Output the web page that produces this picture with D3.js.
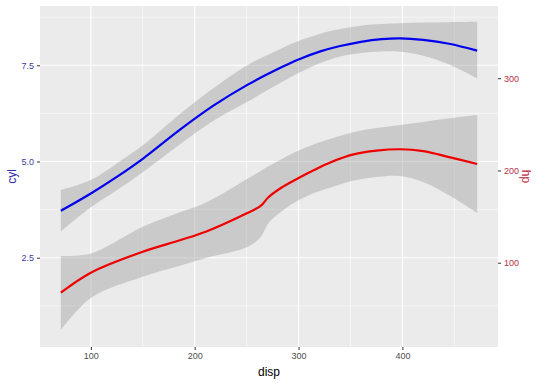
<!DOCTYPE html>
<html>
<head>
<meta charset="utf-8">
<script src="https://cdn.jsdelivr.net/npm/d3@7"></script>
<style>
  body { margin: 0; background: #fff; }
  svg { display: block; font-family: "Liberation Sans", Arial, Helvetica, sans-serif; }
</style>
</head>
<body>
<svg id="chart" width="540" height="383"></svg>
<script>
// ---- data ----
const xTicks = [100, 200, 300, 400];
const cylTicks = [2.5, 5.0, 7.5];
const hpTicks = [100, 200, 300];

// loess fit of cyl ~ disp
const cylDisp  = [71.1, 100, 125, 150, 186.5, 218, 250.7, 283, 300, 321, 340, 360, 380, 398, 420, 445, 472];
const cylFit   = [3.72, 4.17, 4.60, 5.07, 5.84, 6.45, 6.99, 7.44, 7.65, 7.86, 8.00, 8.11, 8.18, 8.20, 8.16, 8.06, 7.88];
const cylLow   = [3.18, 3.81, 4.25, 4.72, 5.46, 6.06, 6.55, 7.05, 7.30, 7.56, 7.73, 7.82, 7.86, 7.85, 7.75, 7.52, 7.16];
const cylHigh  = [4.26, 4.52, 4.95, 5.42, 6.25, 6.90, 7.50, 7.93, 8.13, 8.32, 8.44, 8.53, 8.57, 8.59, 8.61, 8.62, 8.63];

// loess fit of hp ~ disp
const hpDisp   = [71.1, 100, 150, 186.5, 210.6, 250.7, 263.5, 271, 283, 297, 315, 331, 353, 375, 398, 420, 445, 472];
const hpFit    = [67.5, 89.2, 111.9, 124.6, 133.6, 153.9, 161.5, 171.0, 181.0, 190.0, 200.5, 209.0, 217.5, 221.5, 223.0, 221.0, 214.5, 207.0];
const hpLow    = [27.0, 61.8, 84.8, 97.0, 105.1, 117.0, 127.9, 143.1, 155.0, 165.8, 175.5, 181.5, 189.0, 193.0, 194.0, 187.5, 173.0, 153.9];
const hpHigh   = [107.3, 110.0, 139.0, 155.0, 165.0, 191.0, 199.5, 204.5, 212.0, 220.1, 228.5, 234.5, 241.5, 246.0, 249.3, 252.5, 256.5, 260.2];

// ---- layout ----
const svg = d3.select("#chart");
const panel = { left: 40, right: 498, top: 6, bottom: 347 };

const x = d3.scaleLinear().domain([51.05, 492.05]).range([panel.left, panel.right]);
const yL = d3.scaleLinear().domain([0.18, 9.04]).range([panel.bottom, panel.top]);
const yR = d3.scaleLinear().domain([8.6, 378.3]).range([panel.bottom, panel.top]);

// panel background
svg.append("rect")
  .attr("x", panel.left).attr("y", panel.top)
  .attr("width", panel.right - panel.left).attr("height", panel.bottom - panel.top)
  .attr("fill", "#ebebeb");

const g = svg.append("g");
// minor grid
const xMinor = [150, 250, 350, 450];
const yMinor = [1.25, 3.75, 6.25, 8.75];
g.selectAll(".xminor").data(xMinor).enter().append("line")
  .attr("x1", d => x(d)).attr("x2", d => x(d))
  .attr("y1", panel.top).attr("y2", panel.bottom)
  .attr("stroke", "#fff").attr("stroke-width", 0.55);
g.selectAll(".yminor").data(yMinor).enter().append("line")
  .attr("y1", d => yL(d)).attr("y2", d => yL(d))
  .attr("x1", panel.left).attr("x2", panel.right)
  .attr("stroke", "#fff").attr("stroke-width", 0.55);
// major grid
g.selectAll(".xmajor").data(xTicks).enter().append("line")
  .attr("x1", d => x(d)).attr("x2", d => x(d))
  .attr("y1", panel.top).attr("y2", panel.bottom)
  .attr("stroke", "#fff").attr("stroke-width", 1.1);
g.selectAll(".ymajor").data(cylTicks).enter().append("line")
  .attr("y1", d => yL(d)).attr("y2", d => yL(d))
  .attr("x1", panel.left).attr("x2", panel.right)
  .attr("stroke", "#fff").attr("stroke-width", 1.1);

// ribbons
const cylRows = cylDisp.map((d, i) => ({ x: d, y: cylFit[i], lo: cylLow[i], hi: cylHigh[i] }));
const hpRows = hpDisp.map((d, i) => ({ x: d, y: hpFit[i], lo: hpLow[i], hi: hpHigh[i] }));

const crv = d3.curveCatmullRom.alpha(0.5);
const areaL = d3.area().curve(crv).x(d => x(d.x)).y0(d => yL(d.lo)).y1(d => yL(d.hi));
const areaR = d3.area().curve(crv).x(d => x(d.x)).y0(d => yR(d.lo)).y1(d => yR(d.hi));
const lineL = d3.line().curve(crv).x(d => x(d.x)).y(d => yL(d.y));
const lineR = d3.line().curve(crv).x(d => x(d.x)).y(d => yR(d.y));

svg.append("path").datum(cylRows).attr("d", areaL).attr("fill", "#999999").attr("fill-opacity", 0.4);
svg.append("path").datum(hpRows).attr("d", areaR).attr("fill", "#999999").attr("fill-opacity", 0.4);
svg.append("path").datum(cylRows).attr("d", lineL).attr("fill", "none").attr("stroke", "#0000ee").attr("stroke-width", 2.2);
svg.append("path").datum(hpRows).attr("d", lineR).attr("fill", "none").attr("stroke", "#ee0000").attr("stroke-width", 2.2);

// axes
function styleAxis(sel, color) {
  sel.select(".domain").remove();
  sel.selectAll(".tick line").attr("stroke", "#333").attr("stroke-width", 1);
  sel.selectAll(".tick text").attr("fill", color).style("font-size", "9px");
}
const xAxis = svg.append("g").attr("transform", `translate(0,${panel.bottom})`)
  .call(d3.axisBottom(x).tickValues(xTicks).tickSize(3).tickPadding(3).tickFormat(d3.format("d")));
styleAxis(xAxis, "#4d4d4d");

const lAxis = svg.append("g").attr("transform", `translate(${panel.left},0)`)
  .call(d3.axisLeft(yL).tickValues(cylTicks).tickSize(3).tickPadding(3).tickFormat(d3.format(".1f")));
styleAxis(lAxis, "#3b3ba0");

const rAxis = svg.append("g").attr("transform", `translate(${panel.right},0)`)
  .call(d3.axisRight(yR).tickValues(hpTicks).tickSize(3).tickPadding(3).tickFormat(d3.format("d")));
styleAxis(rAxis, "#b8304a");

// titles
svg.append("text").attr("x", (panel.left + panel.right) / 2).attr("y", 376)
  .attr("text-anchor", "middle").style("font-size", "12px").attr("fill", "#000").text("disp");
svg.append("text").attr("transform", `translate(16,${(panel.top + panel.bottom) / 2}) rotate(-90)`)
  .attr("text-anchor", "middle").style("font-size", "12px").attr("fill", "#2a2aa8").text("cyl");
svg.append("text").attr("transform", `translate(522,${(panel.top + panel.bottom) / 2}) rotate(90)`)
  .attr("text-anchor", "middle").style("font-size", "12px").attr("fill", "#c0283e").text("hp");
</script>
</body>
</html>
